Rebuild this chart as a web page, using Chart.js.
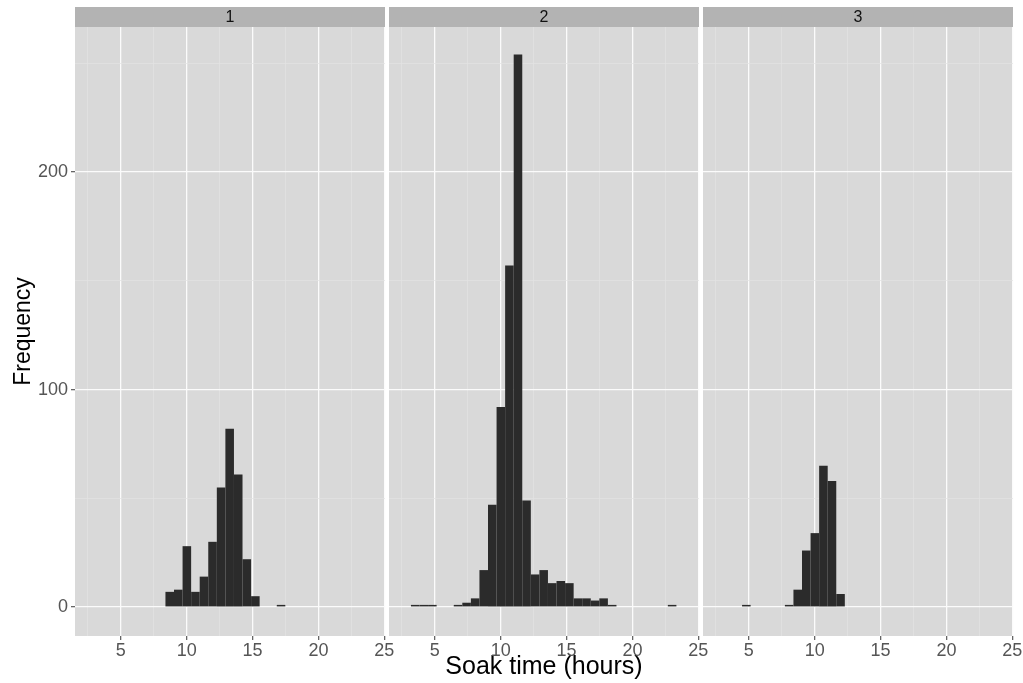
<!DOCTYPE html>
<html>
<head>
<meta charset="utf-8">
<script src="https://cdn.jsdelivr.net/npm/chart.js@4.4.1/dist/chart.umd.min.js"></script>
<style>
  html, body { margin: 0; padding: 0; background: #fff; }
  #wrap { position: relative; width: 1023px; height: 683px; overflow: hidden; }
  .panel { position: absolute; top: 0; height: 683px; }
</style>
</head>
<body>
<div id="wrap">
  <div class="panel" style="left:0;width:400px"><canvas id="p1"></canvas></div>
  <div class="panel" style="left:389px;width:330px"><canvas id="p2"></canvas></div>
  <div class="panel" style="left:703px;width:320px"><canvas id="p3"></canvas></div>
</div>
<script>
// histogram bins (hours), shared by all three facets
const binCentres = [3.51, 4.16, 4.81, 5.46, 6.11, 6.76, 7.41, 8.06, 8.71, 9.36,
  10.01, 10.66, 11.31, 11.96, 12.61, 13.26, 13.91, 14.56, 15.21, 15.86,
  16.51, 17.16, 17.81, 18.46, 19.11, 19.76, 20.41, 21.06, 21.71, 22.36, 23.01];

const countsPanel1 = [0, 0, 0, 0, 0, 0, 0, 0, 7, 8, 28, 7, 14, 30, 55, 82, 61, 22, 5, 0, 0, 1, 0, 0, 0, 0, 0, 0, 0, 0, 0];
const countsPanel2 = [1, 1, 1, 0, 0, 1, 2, 4, 17, 47, 92, 157, 254, 49, 15, 17, 11, 12, 11, 4, 4, 3, 4, 1, 0, 0, 0, 0, 0, 0, 1];
const countsPanel3 = [0, 0, 1, 0, 0, 0, 0, 1, 8, 26, 34, 65, 58, 6, 0, 0, 0, 0, 0, 0, 0, 0, 0, 0, 0, 0, 0, 0, 0, 0, 0];

const facetLabels = ['1', '2', '3'];
const xMajorTicks = [5, 10, 15, 20, 25];
const xMinorTicks = [2.5, 7.5, 12.5, 17.5, 22.5];
const yMajorTicks = [0, 100, 200];
const yMinorTicks = [50, 150, 250];

const FONT = '"Liberation Sans", Arial, Helvetica, sans-serif';
const xGridTicks = [...xMajorTicks, ...xMinorTicks].sort((a, b) => a - b);
const yGridTicks = [...yMajorTicks, ...yMinorTicks].sort((a, b) => a - b);

// grey panel background + facet strip, ggplot style
const facetPlugin = {
  id: 'facetPanel',
  beforeDraw(chart, args, opts) {
    const { ctx, chartArea: a } = chart;
    ctx.save();
    ctx.fillStyle = '#d9d9d9';
    ctx.fillRect(a.left, a.top, a.right - a.left, a.bottom - a.top);
    ctx.fillStyle = '#b3b3b3';
    ctx.fillRect(a.left, 7, a.right - a.left, a.top - 7);
    ctx.fillStyle = '#111';
    ctx.font = '16px ' + FONT;
    ctx.textAlign = 'center';
    ctx.textBaseline = 'middle';
    ctx.fillText(opts.label, (a.left + a.right) / 2, (7 + a.top) / 2 + 1);
    ctx.restore();
  }
};

function buildPanel(canvasId, counts, label, cfg) {
  const isMajorX = ctx => ctx.tick && xMajorTicks.includes(ctx.tick.value);
  const isMajorY = ctx => ctx.tick && yMajorTicks.includes(ctx.tick.value);

  return new Chart(document.getElementById(canvasId), {
    type: 'bar',
    data: {
      datasets: [{
        data: binCentres.map((x, i) => ({ x: x, y: counts[i] })),
        backgroundColor: '#2b2b2b',
        borderWidth: 0,
        inflateAmount: 0,
        barPercentage: 1,
        categoryPercentage: 1
      }]
    },
    plugins: [facetPlugin],
    options: {
      responsive: true,
      maintainAspectRatio: false,
      animation: false,
      layout: { padding: { left: 0, top: 27, right: cfg.padRight, bottom: 0 } },
      plugins: {
        legend: { display: false },
        tooltip: { enabled: false },
        facetPanel: { label: label }
      },
      scales: {
        x: {
          type: 'linear',
          min: 1.52,
          max: 25.05,
          offset: false,
          afterBuildTicks: s => { s.ticks = xGridTicks.map(v => ({ value: v })); },
          afterFit: s => { s.height = 47; },
          border: { display: false },
          grid: {
            offset: false,
            color: ctx => isMajorX(ctx) ? '#fbfbfb' : '#e3e3e3',
            lineWidth: ctx => isMajorX(ctx) ? 1.3 : 0.7,
            tickColor: ctx => isMajorX(ctx) ? '#666' : 'rgba(0,0,0,0)',
            tickLength: 4
          },
          ticks: {
            autoSkip: false,
            maxRotation: 0,
            padding: 0,
            color: '#555',
            font: { family: FONT, size: 18 },
            callback: v => xMajorTicks.includes(v) ? String(v) : ''
          },
          title: {
            display: cfg.xTitle !== undefined,
            text: cfg.xTitle || '',
            color: '#000',
            font: { family: FONT, size: 25 },
            padding: { top: 0, bottom: 1 }
          }
        },
        y: {
          min: -13.3,
          max: 266.7,
          afterBuildTicks: s => { s.ticks = yGridTicks.map(v => ({ value: v })); },
          afterFit: s => { s.width = cfg.yWidth; },
          border: { display: false },
          grid: {
            color: ctx => isMajorY(ctx) ? '#fbfbfb' : '#e3e3e3',
            lineWidth: ctx => isMajorY(ctx) ? 1.3 : 0.7,
            drawTicks: cfg.yWidth > 0,
            tickColor: ctx => isMajorY(ctx) ? '#666' : 'rgba(0,0,0,0)',
            tickLength: 4
          },
          ticks: {
            display: cfg.yWidth > 0,
            padding: 3,
            color: '#555',
            font: { family: FONT, size: 18 },
            callback: v => yMajorTicks.includes(v) ? String(v) : ''
          },
          title: {
            display: cfg.yTitle !== undefined,
            text: cfg.yTitle || '',
            color: '#000',
            font: { family: FONT, size: 23 },
            padding: { top: 10, bottom: 0 }
          }
        }
      }
    }
  });
}

buildPanel('p1', countsPanel1, facetLabels[0], { yWidth: 75, padRight: 15, yTitle: 'Frequency' });
buildPanel('p2', countsPanel2, facetLabels[1], { yWidth: 0, padRight: 20, xTitle: 'Soak time (hours)' });
buildPanel('p3', countsPanel3, facetLabels[2], { yWidth: 0, padRight: 10 });
</script>
</body>
</html>
